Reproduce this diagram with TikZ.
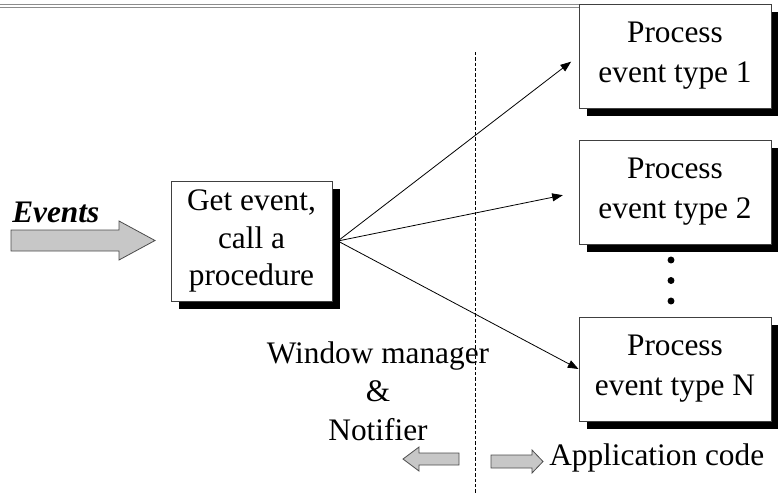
\documentclass[tikz,border=0pt]{standalone}
\usepackage{fontspec}
\setmainfont{Liberation Serif}
\usetikzlibrary{arrows.meta,shadows}

\begin{document}
\begin{tikzpicture}[x=0.75pt,y=-0.75pt,
  procbox/.style={draw=black!75,line width=0.75pt,fill=white,
    drop shadow={shadow xshift=6pt,shadow yshift=-6pt,fill=black,opacity=1},
    minimum width=144pt,minimum height=78pt,inner sep=0pt,align=center,
    font=\fontsize{23.5}{30}\selectfont},
  fanline/.style={line width=0.6pt,-{Triangle[length=8pt,width=6pt]}},
  blockarrow/.style={draw=black!70,line width=0.6pt,fill=black!22},
  txt/.style={font=\fontsize{23.5}{29}\selectfont,inner sep=0pt}]
\useasboundingbox (0,0) rectangle (778,493);
% rule at the top
\draw[black!45,line width=0.6pt] (0,4.5) -- (579,4.5);
\draw[black!45,line width=0.6pt] (0,7) -- (579,7);
% boxes
\node[procbox] (get) at (251.5,241) [minimum width=120.75pt,minimum height=90pt,
  font=\fontsize{23.5}{28}\selectfont] {Get event,\\call a\\procedure};
\node[procbox] (p1) at (675,56) {Process\\event type 1};
\node[procbox] (p2) at (675,192) {Process\\event type 2};
\node[procbox] (pn) at (675,369) {Process\\event type N};
\foreach \y in {260,280.5,301}
  \fill (671,\y) circle (2.6pt);
% separation
\draw[line width=0.6pt,dash pattern=on 2.5pt off 1.5pt] (475.5,52) -- (475.5,493);
% fan out
\coordinate (fan) at ([xshift=4pt]get.east);
\draw[fanline,shorten >=7pt] (fan) -- (p1.west);
\draw[fanline,shorten >=12pt] (fan) -- (p2.west);
\draw[fanline] (fan) -- (pn.west);
% incoming events
\draw[blockarrow] (11,230) -- (119,230) -- (119,221) -- (155,240.5)
  -- (119,260) -- (119,251) -- (11,251) -- cycle;
\node[txt,anchor=base west,font=\fontsize{23.5}{29}\selectfont\bfseries\itshape]
  (events) at (12,222) {Events};
% bottom
\node[txt,align=center] (wm) at (378,391) {Window manager\\\&\\Notifier};
\draw[blockarrow] (459,453) -- (419,453) -- (419,447) -- (403,459)
  -- (419,471) -- (419,465) -- (459,465) -- cycle;
\draw[blockarrow] (491,455) -- (532,455) -- (532,450) -- (543,461.5)
  -- (532,473) -- (532,468) -- (491,468) -- cycle;
\node[txt,anchor=base west] (app) at (549,465) {Application code};
\end{tikzpicture}
\end{document}
